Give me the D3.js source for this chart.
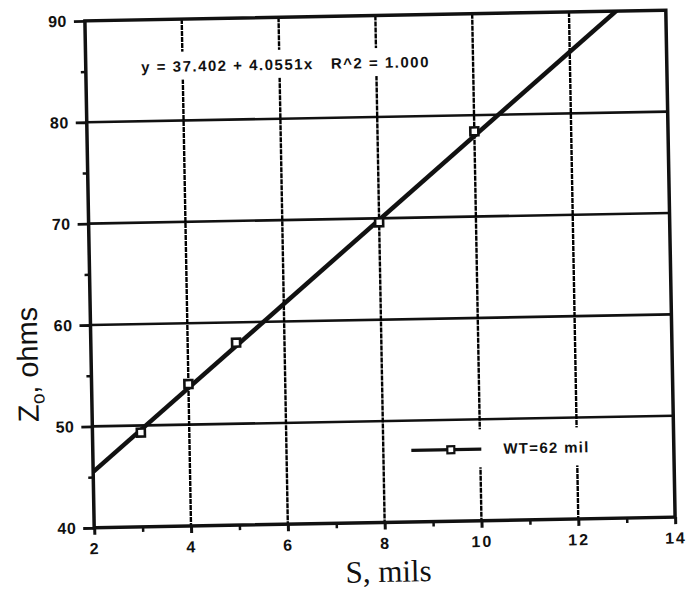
<!DOCTYPE html>
<html>
<head>
<meta charset="utf-8">
<script src="https://cdn.jsdelivr.net/npm/d3@7/dist/d3.min.js"></script>
<style>
  html, body { margin: 0; padding: 0; background: #fff; }
  svg { display: block; }
</style>
</head>
<body>
<svg id="chart" width="687" height="590"></svg>
<script>
// Measured characteristic impedance vs. spacing
const spacing = [3, 4, 5, 8, 10];                 // S, mils
const impedance = [49.3, 54.0, 58.0, 69.6, 78.4]; // Zo, ohms
const fitIntercept = 37.402;
const fitSlope = 4.0551;
const fitLabel = "y = 37.402 + 4.0551x   R^2 = 1.000";
const seriesName = "WT=62 mil";
const xTicks = [2, 4, 6, 8, 10, 12, 14];
const xMinor = [3, 5, 7, 9, 11, 13];
const yTicks = [40, 50, 60, 70, 80, 90];
const yMinor = [45, 55, 65, 75, 85];

const svg = d3.select("#chart");
const plotL = 89.5, plotR = 670.5, plotT = 15.5, plotB = 522.5;
const ink = "#111";
const sans = "'Liberation Sans', Arial, sans-serif";

const x = d3.scaleLinear().domain([2, 14]).range([plotL, plotR]);
const y = d3.scaleLinear().domain([40, 90]).range([plotB, plotT]);

// whole sheet sits slightly tilted
const g = svg.append("g")
  .attr("transform", `rotate(-1.05, ${(plotL + plotR) / 2}, ${(plotT + plotB) / 2})`);

// horizontal grid (solid)
g.append("g").selectAll("line")
  .data(yTicks.slice(1, -1)).join("line")
  .attr("x1", plotL).attr("x2", plotR)
  .attr("y1", d => y(d)).attr("y2", d => y(d))
  .attr("stroke", ink).attr("stroke-width", 2.6);

// vertical grid (finely dotted)
g.append("g").selectAll("line")
  .data(xTicks.slice(1, -1)).join("line")
  .attr("x1", d => x(d)).attr("x2", d => x(d))
  .attr("y1", plotT).attr("y2", plotB)
  .attr("stroke", "#000").attr("stroke-width", 2.4)
  .attr("stroke-dasharray", "5,1");

// white panels behind the equation and the legend
g.append("rect")
  .attr("x", 140).attr("y", 48).attr("width", 300).attr("height", 28)
  .attr("fill", "#fff");
g.append("rect")
  .attr("x", 398).attr("y", 431).attr("width", 210).attr("height", 38)
  .attr("fill", "#fff");

// axes: ticks and labels
const xAxis = d3.axisBottom(x).tickValues(xTicks).tickSize(7).tickPadding(8)
  .tickFormat(d3.format("d"));
const xAxisMinor = d3.axisBottom(x).tickValues(xMinor).tickSize(5).tickFormat("");
const yAxis = d3.axisLeft(y).tickValues(yTicks).tickSize(11).tickPadding(7)
  .tickFormat(d3.format("d"));
const yAxisMinor = d3.axisLeft(y).tickValues(yMinor).tickSize(5).tickFormat("");

function styleAxis(sel, w) {
  sel.select(".domain").remove();
  sel.selectAll(".tick line").attr("stroke", ink).attr("stroke-width", w);
  sel.selectAll(".tick text")
    .attr("fill", ink)
    .style("font-family", sans)
    .style("font-weight", "bold")
    .style("font-size", "16px");
}
g.append("g").attr("transform", `translate(0,${plotB})`).call(xAxis)
  .call(s => styleAxis(s, 3))
  .selectAll(".tick text").style("letter-spacing", "2px");
g.append("g").attr("transform", `translate(0,${plotB})`).call(xAxisMinor)
  .call(s => styleAxis(s, 2.5));
g.append("g").attr("transform", `translate(${plotL},0)`).call(yAxis)
  .call(s => styleAxis(s, 2.8))
  .selectAll(".tick text").style("letter-spacing", "0.5px");
g.append("g").attr("transform", `translate(${plotL},0)`).call(yAxisMinor)
  .call(s => styleAxis(s, 2.5));

// clip for fitted line
svg.append("defs").append("clipPath").attr("id", "plotclip")
  .append("rect").attr("x", plotL).attr("y", plotT)
  .attr("width", plotR - plotL).attr("height", plotB - plotT);

// regression line across the plot
const fitX = x.domain();
g.append("line")
  .attr("clip-path", "url(#plotclip)")
  .attr("x1", x(fitX[0])).attr("y1", y(fitIntercept + fitSlope * fitX[0]))
  .attr("x2", x(fitX[1])).attr("y2", y(fitIntercept + fitSlope * fitX[1]))
  .attr("stroke", ink).attr("stroke-width", 4.5);

// data markers
g.append("g").selectAll("rect")
  .data(spacing.map((s, i) => [s, impedance[i]])).join("rect")
  .attr("x", d => x(d[0]) - 4).attr("y", d => y(d[1]) - 4)
  .attr("width", 8).attr("height", 8)
  .attr("fill", "#fff").attr("stroke", ink).attr("stroke-width", 2.6);

// frame
g.append("rect")
  .attr("x", plotL).attr("y", plotT)
  .attr("width", plotR - plotL).attr("height", plotB - plotT)
  .attr("fill", "none").attr("stroke", ink).attr("stroke-width", 3.5);

// regression equation
g.append("text")
  .attr("x", 145).attr("y", 68)
  .attr("fill", ink)
  .attr("xml:space", "preserve")
  .style("font-family", sans)
  .style("font-weight", "bold").style("font-size", "15px")
  .style("letter-spacing", "1.5px")
  .style("white-space", "pre")
  .text(fitLabel);

// legend
const legY = 451;
g.append("line").attr("x1", 408).attr("x2", 478)
  .attr("y1", legY).attr("y2", legY)
  .attr("stroke", ink).attr("stroke-width", 3.2);
g.append("rect").attr("x", 444).attr("y", legY - 3.5).attr("width", 7).attr("height", 7)
  .attr("fill", "#fff").attr("stroke", ink).attr("stroke-width", 2.2);
g.append("text").attr("x", 500).attr("y", legY + 5)
  .attr("fill", ink)
  .style("font-family", sans)
  .style("font-weight", "bold").style("font-size", "15px")
  .style("letter-spacing", "1.3px")
  .text(seriesName);

// axis titles
g.append("text")
  .attr("x", 383).attr("y", 582)
  .attr("text-anchor", "middle")
  .attr("fill", ink)
  .style("font-family", "'Liberation Serif', 'Times New Roman', serif")
  .style("font-size", "31px")
  .text("S, mils");

const yt = g.append("text")
  .attr("transform", "translate(36,358) rotate(-90)")
  .attr("text-anchor", "middle")
  .attr("fill", ink)
  .style("font-family", sans)
  .style("font-size", "29px");
yt.append("tspan").text("Z");
yt.append("tspan").attr("dy", 6).style("font-size", "19px").text("o");
yt.append("tspan").attr("dy", -6).text(", ohms");
</script>
</body>
</html>
